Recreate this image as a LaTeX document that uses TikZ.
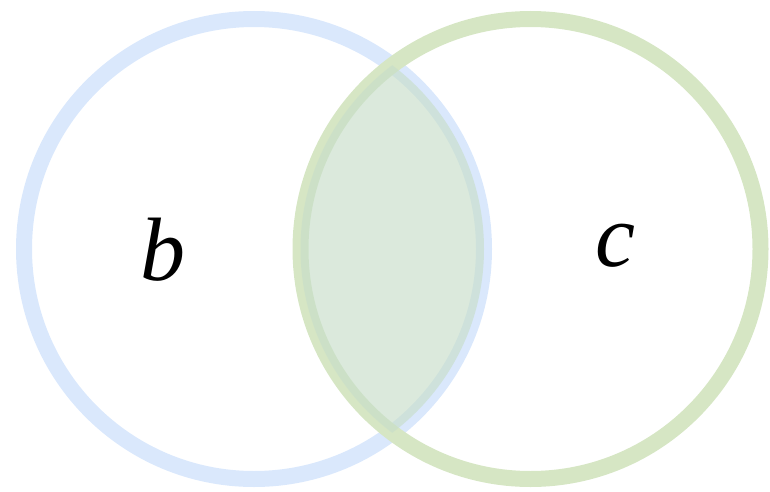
\documentclass[tikz,border=0pt]{standalone}
\usepackage{fontspec}
\setmainfont{Liberation Serif}
\definecolor{bluestroke}{RGB}{218,232,252}
\definecolor{greenstroke}{RGB}{214,230,196}
\definecolor{interfill}{RGB}{200,222,202}
\begin{document}
\begin{tikzpicture}[x=1pt,y=1pt,
  ring/.style={line width=16pt},
  lbl/.style={font=\fontsize{90}{90}\selectfont\itshape, inner sep=0pt}]
\useasboundingbox (0,0) rectangle (770,491);
\coordinate (bc) at (254,242);
\coordinate (cc) at (530.5,242);
\draw[ring, bluestroke] (bc) circle[radius=230];
\draw[ring, greenstroke] (cc) circle[radius=230];
\begin{scope}
  \clip (bc) circle[radius=230];
  \fill[interfill, fill opacity=0.66] (cc) circle[radius=230];
\end{scope}
\node[lbl] (b) at (163,241) {b};
\node[lbl] (c) at (615,245) {c};
\end{tikzpicture}
\end{document}
